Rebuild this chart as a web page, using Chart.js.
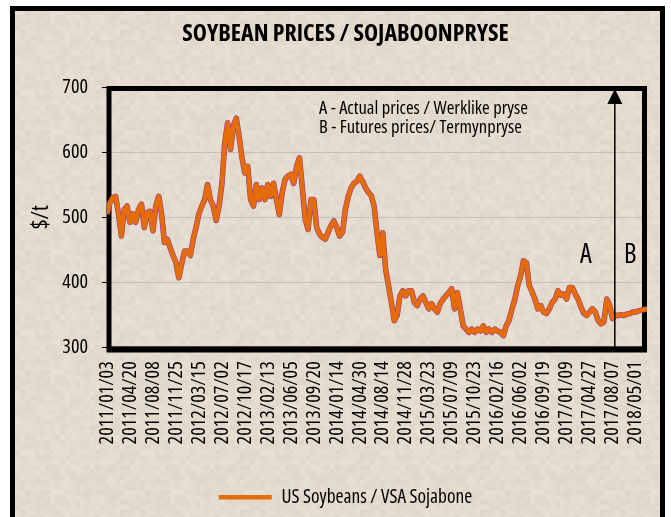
<!DOCTYPE html>
<html>
<head>
<meta charset="utf-8">
<script src="https://cdn.jsdelivr.net/npm/chart.js@4.4.1/dist/chart.umd.min.js"></script>
<style>
  body { margin: 0; background: #fff; }
  #wrap { width: 671px; height: 517px; }
</style>
</head>
<body>
<div id="wrap"><canvas id="myChart" width="671" height="517"></canvas></div>
<script>
// tick labels on the x axis, one every 8 points
var tickLabels = ['2011/01/03', '2011/04/20', '2011/08/08', '2011/11/25', '2012/03/15', '2012/07/02',
  '2012/10/17', '2013/02/13', '2013/06/05', '2013/09/20', '2014/01/14', '2014/04/30', '2014/08/14',
  '2014/11/28', '2015/03/23', '2015/07/09', '2015/10/23', '2016/02/16', '2016/06/02', '2016/09/19',
  '2017/01/09', '2017/04/27', '2017/08/07', '2018/05/01'];
var pointsPerTick = 8;

// actual prices ($/t)
var actualPrices = [505, 522, 530, 532, 505, 471, 512, 517, 492, 505, 492, 512, 520, 484, 507, 509,
  479, 517, 532, 505, 461, 466, 453, 441, 430, 407, 428, 448, 448, 441, 466, 484,
  505, 517, 527, 550, 527, 517, 495, 517, 551, 614, 645, 604, 640, 652, 624, 591,
  568, 578, 527, 517, 550, 527, 545, 527, 550, 532, 552, 527, 504, 538, 558, 563,
  566, 552, 578, 591, 545, 497, 481, 527, 527, 484, 474, 469, 466, 477, 487, 494,
  484, 471, 477, 512, 532, 545, 552, 555, 563, 555, 545, 538, 533, 517, 476, 441,
  476, 420, 395, 369, 341, 349, 379, 387, 379, 387, 387, 369, 364, 374, 379, 369,
  359, 367, 359, 354, 367, 374, 379, 384, 390, 359, 384, 359, 333, 328, 323, 328,
  323, 328, 325, 333, 323, 328, 323, 328, 325, 323, 318, 333, 342, 359, 374, 395,
  410, 433, 430, 395, 385, 374, 359, 364, 354, 352, 359, 369, 374, 387, 380, 382,
  374, 392, 392, 382, 374, 362, 352, 349, 354, 359, 354, 341, 336, 339, 374, 364, 344];
// futures prices ($/t)
var futurePrices = [349, 349, 350, 349, 351, 352, 354, 354, 356, 357, 358, 359];

var yTicks = [300, 400, 500, 600, 700];

var allPrices = actualPrices.concat(futurePrices);
var points = allPrices.map(function(v, i) { return {x: i, y: v}; });

// the original uses a narrow font; take a condensed face if one is installed
var probe = document.createElement('canvas').getContext('2d');
function textWidth(font, text) { probe.font = font; return probe.measureText(text).width; }
var SAMPLE = '2011/01/03 Actual prices Werklike';
var baseW = textWidth("40px 'Liberation Sans'", SAMPLE);
var candidates = [
  {family: "'Liberation Sans Narrow'", stretch: ''},
  {family: "'Arial Narrow'", stretch: ''},
  {family: "'Noto Sans'", stretch: 'condensed'},
  {family: "'Noto Sans Condensed'", stretch: ''},
  {family: "'DejaVu Sans Condensed'", stretch: ''},
  {family: "'Open Sans'", stretch: 'condensed'},
  {family: "'Roboto'", stretch: 'condensed'}
];
var pick = {family: "'Liberation Sans'", stretch: ''};
for (var k = 0; k < candidates.length; k++) {
  var cnd = candidates[k];
  var r = textWidth((cnd.stretch ? cnd.stretch + ' ' : '') + "40px " + cnd.family + ", monospace", SAMPLE) / baseW;
  if (r > 0.7 && r < 0.92) { pick = cnd; break; }
}
var FAM = pick.family + ", 'Liberation Sans', sans-serif";

function fontString(size, bold) {
  return (bold ? 'bold ' : '') + (pick.stretch ? pick.stretch + ' ' : '') + size + 'px ' + FAM;
}
// font sized so that a text gets the width it has in the picture
function fontFor(text, width, bold) {
  var size = 40 * width / textWidth(fontString(40, bold), text);
  var w = ((bold ? 'bold ' : '') + pick.stretch).trim();
  return {family: FAM, size: Math.round(size * 10) / 10, weight: w || 'normal', css: fontString(size, bold)};
}

var tickFont = fontFor('2011/01/03', 83, false);
var titleFont = fontFor('SOYBEAN PRICES / SOJABOONPRYSE', 326, true);
var noteFont = fontFor('A - Actual prices / Werklike pryse', 209, false);
var legendFont = fontFor('US Soybeans / VSA Sojabone', 191, false);
var axisTitleFont = fontFor('$/t', 24, false);
var letterFont = fontFor('A', 11.7, false);

var titleLH = titleFont.size * 1.2;
var titlePadTop = 34 - 12 - titleLH / 2;
var titlePadBottom = 87 - 12 - titlePadTop - titleLH;
var legendTop = 498 - 10 - legendFont.size / 2;
var legendPadBottom = Math.max(0, 517 - (legendTop + legendFont.size + 20));

// mottled paper background, built once
function paperPattern(c) {
  var tile = document.createElement('canvas');
  tile.width = 120; tile.height = 120;
  var t = tile.getContext('2d');
  var s = 12345;
  for (var yy = 0; yy < 120; yy += 5) {
    for (var xx = 0; xx < 120; xx += 5) {
      s = (s * 1103515245 + 12345) % 2147483648;
      var d = ((s >> 8) % 9) - 4;
      t.fillStyle = 'rgb(' + (227 + d) + ',' + (219 + d) + ',' + (205 + d) + ')';
      t.fillRect(xx, yy, 5, 5);
    }
  }
  return c.createPattern(tile, 'repeat');
}
var paper = null;

var decor = {
  id: 'decor',
  beforeDraw: function(chart) {
    var c = chart.ctx;
    if (!paper) paper = paperPattern(c);
    c.save();
    c.fillStyle = '#ffffff';
    c.fillRect(0, 0, chart.width, chart.height);
    c.fillStyle = paper;
    c.fillRect(10, 6, 655, 520);
    c.strokeStyle = '#000';
    c.lineWidth = 5;
    c.strokeRect(12.5, 8.5, 650, 530);
    c.restore();
  },
  beforeDatasetsDraw: function(chart) {
    var c = chart.ctx, a = chart.chartArea;
    c.save();
    c.strokeStyle = '#000';
    c.lineWidth = 5;
    c.strokeRect(a.left + 2, a.top + 1.5, a.right - a.left - 4.5, a.bottom - a.top + 1);
    c.fillStyle = '#000';
    c.fillRect(a.left, a.bottom - 1, a.right - a.left, 6);
    c.restore();
  },
  afterDatasetsDraw: function(chart) {
    var c = chart.ctx, a = chart.chartArea;
    var ax = chart.scales.x.getPixelForValue(actualPrices.length - 0.2);
    c.save();
    // split arrow between actual and futures
    c.strokeStyle = '#000';
    c.lineWidth = 1.5;
    c.beginPath();
    c.moveTo(ax, a.bottom);
    c.lineTo(ax, a.top + 14);
    c.stroke();
    c.fillStyle = '#000';
    c.beginPath();
    c.moveTo(ax - 7.5, a.top + 17);
    c.lineTo(ax + 7.5, a.top + 17);
    c.lineTo(ax, a.top + 2);
    c.closePath();
    c.fill();
    // notes
    c.font = noteFont.css;
    c.textBaseline = 'alphabetic';
    c.textAlign = 'left';
    c.fillText('A - Actual prices / Werklike pryse', 319, 114);
    c.fillText('B - Futures prices/ Termynpryse', 319, 133);
    c.font = letterFont.css;
    c.fillText('A', 580, 263);
    c.fillText('B', 624, 263);
    c.restore();
  }
};

var ctx = document.getElementById('myChart').getContext('2d');
var myChart = new Chart(ctx, {
  type: 'line',
  data: {
    datasets: [{
      label: 'US Soybeans / VSA Sojabone',
      data: points,
      borderColor: '#e46c0a',
      backgroundColor: '#e46c0a',
      borderWidth: 4.5,
      pointRadius: 0,
      tension: 0,
      borderJoinStyle: 'round'
    }, {
      label: 'outline',
      data: points,
      borderColor: '#9a3a8a',
      borderWidth: 5.6,
      pointRadius: 0,
      tension: 0,
      borderJoinStyle: 'round'
    }]
  },
  options: {
    responsive: false,
    animation: false,
    devicePixelRatio: 1,
    layout: { padding: { top: 12, left: 44, right: 24, bottom: legendPadBottom } },
    plugins: {
      title: {
        display: true,
        text: 'SOYBEAN PRICES / SOJABOONPRYSE',
        color: '#000',
        font: titleFont,
        padding: { top: titlePadTop, bottom: titlePadBottom }
      },
      legend: {
        position: 'bottom',
        labels: {
          color: '#000',
          font: legendFont,
          usePointStyle: true,
          pointStyle: 'line',
          pointStyleWidth: 53,
          padding: 10,
          filter: function(item) { return item.datasetIndex === 0; }
        }
      },
      tooltip: { enabled: false }
    },
    scales: {
      x: {
        type: 'linear',
        min: 0,
        max: allPrices.length - 1,
        bounds: 'data',
        grid: { display: false, drawTicks: false },
        border: { display: false },
        ticks: {
          stepSize: pointsPerTick,
          includeBounds: false,
          autoSkip: false,
          minRotation: 90,
          maxRotation: 90,
          padding: 14,
          color: '#000',
          font: tickFont,
          callback: function(value) {
            return value % pointsPerTick === 0 ? tickLabels[value / pointsPerTick] : '';
          }
        },
        afterFit: function(scale) {
          scale.height = legendTop - 348;
          scale.paddingLeft = 0;
          scale.paddingRight = 0;
        }
      },
      y: {
        min: yTicks[0],
        max: yTicks[yTicks.length - 1],
        grid: { color: '#c4c0b9', lineWidth: 1, tickColor: '#000', tickLength: 5 },
        border: { display: false },
        ticks: {
          stepSize: 100,
          padding: 14,
          color: '#000',
          font: tickFont
        },
        title: {
          display: true,
          text: '$/t',
          color: '#000',
          font: axisTitleFont,
          padding: { top: -3 - axisTitleFont.size * 0.6, bottom: 0 }
        },
        afterFit: function(scale) { scale.width = 63; }
      }
    }
  },
  plugins: [decor]
});
</script>
</body>
</html>
